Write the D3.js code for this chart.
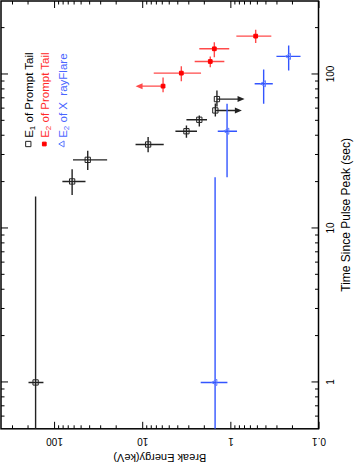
<!DOCTYPE html>
<html>
<head>
<meta charset="utf-8">
<script src="https://cdn.jsdelivr.net/npm/d3@7"></script>
<style>
body { margin: 0; background: #fff; }
text { font-family: "Liberation Sans", Arial, sans-serif; }
</style>
</head>
<body>
<svg id="chart" width="354" height="473"></svg>
<script>
//////////////////////////////////////
// Data (time in sec, energy in keV)

// E1 of Prompt Tail
const e1Time     = [1, 20.2, 27.9, 35.1, 42.8, 50.8, 58.4, 69.2];
const e1TimeLo   = [0, 16.5, 24, 31.3, 38.8, 45.9, 53.4, 62];
const e1TimeHi   = [16.1, 24.2, 32, 39.2, 46.6, 54.2, 64.8, 78.8];
const e1Energy   = [162, 62.4, 41.5, 8.57, 3.15, 2.25, 1.48, 1.42];
const e1EnergyLo = [132, 44, 25, 5.7, 2.39, 1.84, 0.74, 0.69];
const e1EnergyHi = [195, 80.5, 61, 11.9, 4.2, 3.15, 1.48, 1.42];
const e1Limit    = [0, 0, 0, 0, 0, 0, -1, -1]; // -1 upper limit

// E2 of Prompt Tail
const e2Time     = [84, 102, 121.4, 146.8, 177.4];
const e2TimeLo   = [76.7, 90.4, 111.5, 129.5, 160];
const e2TimeHi   = [95.6, 113, 131, 162, 195];
const e2Energy   = [5.8, 3.6, 1.69, 1.52, 0.516];
const e2EnergyLo = [5.8, 2.15, 1.17, 1.03, 0.343];
const e2EnergyHi = [11.9, 7.4, 2.54, 2.25, 0.855];
const e2Limit    = [1, 0, 0, 0, 0]; // 1 lower limit

// E2 of X-ray Flare
const xfTime     = [1, 42.8, 87.1, 131];
const xfTimeLo   = [0, 21.5, 64.5, 106];
const xfTimeHi   = [21.5, 64.5, 107.8, 154];
const xfEnergy   = [1.49, 1.09, 0.419, 0.218];
const xfEnergyLo = [1.08, 0.84, 0.33, 0.16];
const xfEnergyHi = [2.17, 1.39, 0.53, 0.30];
const xfLimit    = [0, 0, 0, 0];

const timeTicks = [1, 10, 100];
const energyTicks = [0.1, 1, 10, 100];
const timeDomain = [0.5, 300];
const energyDomain = [0.1, 400];

const legendLabels = [["E", "1", " of Prompt Tail"], ["E", "2", " of Prompt Tail"], ["E", "2", " of X\u00a0\u00a0rayFlare"]];

//////////////////////////////////////
// Layout: chart drawn upright, then turned 90deg counter-clockwise

const W = 427.8, H = 317.5;
const svg = d3.select("#chart");
const g = svg.append("g").attr("transform", "translate(1,428.8) rotate(-90)");

const x = d3.scaleLog().domain(timeDomain).range([0, W]);
const y = d3.scaleLog().domain(energyDomain).range([H, 0]);

function minorTicks(domain) {
	var out = [];
	[0.1, 1, 10, 100].forEach(function(d) {
		for (var k = 2; k <= 9; k++) {
			var v = d * k;
			if (v > domain[0] && v < domain[1]) out.push(v);
		}
	});
	return out;
}

function axisPair(gen, scale, majors, minors, tr) {
	var a = g.append("g").attr("transform", tr);
	a.append("g").call(gen(scale).tickValues(minors).tickSizeInner(-3.5).tickSizeOuter(0).tickFormat(""));
	var m = a.append("g").call(gen(scale).tickValues(majors).tickSizeInner(-7).tickSizeOuter(0).tickPadding(8).tickFormat(function(d){ return String(d); }));
	a.selectAll(".domain").remove();
	a.selectAll("line").attr("stroke", "#000").attr("stroke-width", 1);
	return m;
}

// time axes (bottom labelled, top mirror)
var tb = axisPair(d3.axisBottom, x, timeTicks, minorTicks(timeDomain), "translate(0," + H + ")");
tb.selectAll("text").attr("font-size", 10).attr("fill", "#000");
var tt = axisPair(d3.axisTop, x, timeTicks, minorTicks(timeDomain), "translate(0,0)");
tt.selectAll("text").remove();

// energy axes (left labelled, right mirror)
var el = axisPair(d3.axisLeft, y, energyTicks, minorTicks(energyDomain), "translate(0,0)");
el.selectAll("text")
	.attr("x", 0).attr("y", 0).attr("dy", "0.35em")
	.attr("text-anchor", "middle")
	.attr("transform", "translate(-12.5,0) rotate(-90)")
	.attr("font-size", 10).attr("fill", "#000");
var er = axisPair(d3.axisRight, y, energyTicks, minorTicks(energyDomain), "translate(" + W + ",0)");
er.selectAll("text").remove();

g.append("rect").attr("width", W).attr("height", H)
	.attr("fill", "none").attr("stroke", "#000").attr("stroke-width", 1.5);

// axis titles
g.append("text").attr("x", W / 2).attr("y", H + 27).attr("dy", "0.35em")
	.attr("text-anchor", "middle").attr("font-size", 12)
	.text("Time Since Pulse Peak (sec)");
g.append("text").attr("transform", "translate(-29," + (H / 2) + ") rotate(-90)").attr("dy", "0.35em")
	.attr("text-anchor", "middle").attr("font-size", 11)
	.text("Break Energy(keV)");

//////////////////////////////////////
// Points

g.append("clipPath").attr("id", "plotclip").append("rect").attr("width", W).attr("height", H);
const plot = g.append("g").attr("clip-path", "url(#plotclip)");

const series = [
	{t: e1Time, tlo: e1TimeLo, thi: e1TimeHi, e: e1Energy, elo: e1EnergyLo, ehi: e1EnergyHi, lim: e1Limit,
	 bar: "#222", mark: "#222", symbol: d3.symbolSquare, size: 28, filled: false},
	{t: e2Time, tlo: e2TimeLo, thi: e2TimeHi, e: e2Energy, elo: e2EnergyLo, ehi: e2EnergyHi, lim: e2Limit,
	 bar: "#ff4a4a", mark: "#f00", symbol: d3.symbolSquare, size: 14, filled: true},
	{t: xfTime, tlo: xfTimeLo, thi: xfTimeHi, e: xfEnergy, elo: xfEnergyLo, ehi: xfEnergyHi, lim: xfLimit,
	 bar: "#3355ff", mark: "#5b78ff", symbol: d3.symbolTriangle, size: 16, filled: false}
];

function clampT(v) { return Math.max(v, timeDomain[0] * 0.9); }

series.forEach(function(s) {
	var data = s.t.map(function(t, i) {
		return {t: t, tlo: s.tlo[i], thi: s.thi[i], e: s.e[i], elo: s.elo[i], ehi: s.ehi[i], lim: s.lim[i]};
	});
	var pts = plot.selectAll(null).data(data).enter().append("g");

	// time bars
	pts.append("line")
		.attr("x1", function(d){ return x(clampT(d.tlo)); })
		.attr("x2", function(d){ return x(d.thi); })
		.attr("y1", function(d){ return y(d.e); })
		.attr("y2", function(d){ return y(d.e); })
		.attr("stroke", s.bar).attr("stroke-width", 1.4);

	// energy bars / limit arrows
	pts.append("line")
		.attr("x1", function(d){ return x(d.t); })
		.attr("x2", function(d){ return x(d.t); })
		.attr("y1", function(d){ return y(d.lim === 1 ? d.e : d.elo) - (d.lim === -1 ? 6 : 0); })
		.attr("y2", function(d){ return y(d.lim === 1 ? d.ehi : d.ehi) + (d.lim === 1 ? 6 : 0); })
		.attr("stroke", s.bar).attr("stroke-width", 1.4);

	pts.filter(function(d){ return d.lim !== 0; }).append("path")
		.attr("d", function(d) {
			var px = x(d.t);
			var tip = d.lim === -1 ? y(d.elo) : y(d.ehi);
			var back = d.lim === -1 ? tip - 7 : tip + 7;
			return "M" + px + "," + tip + "L" + (px - 3) + "," + back + "L" + (px + 3) + "," + back + "Z";
		})
		.attr("fill", s.bar);

	pts.append("path")
		.attr("transform", function(d){ return "translate(" + x(d.t) + "," + y(d.e) + ")"; })
		.attr("d", d3.symbol().type(s.symbol).size(s.size))
		.attr("fill", s.filled ? s.mark : "none")
		.attr("stroke", s.mark).attr("stroke-width", 1);
});

//////////////////////////////////////
// Legend

const legendColors = ["#000", "#ff2a2a", "#4a66ff"];
const legendRowY = [27.3, 43.3, 61.3];
const leg = g.append("g");
legendLabels.forEach(function(lab, i) {
	var s = series[i];
	leg.append("path")
		.attr("transform", "translate(284.8," + legendRowY[i] + ")")
		.attr("d", d3.symbol().type(s.symbol).size(s.size))
		.attr("fill", s.filled ? s.mark : "none")
		.attr("stroke", s.mark).attr("stroke-width", 1);
	var t = leg.append("text").attr("x", 291).attr("y", legendRowY[i]).attr("dy", "0.38em")
		.attr("font-size", 11.5).attr("fill", legendColors[i]);
	t.append("tspan").text(lab[0]);
	t.append("tspan").attr("font-size", 8).attr("dy", "0.3em").text(lab[1]);
	t.append("tspan").attr("dy", "-0.22em").text(lab[2]);
});
</script>
</body>
</html>
